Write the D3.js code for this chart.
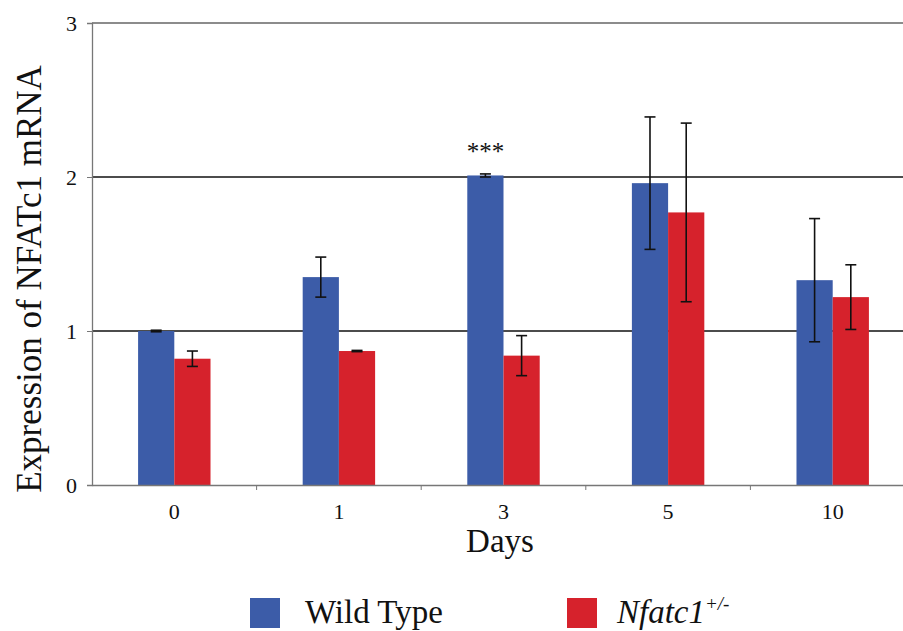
<!DOCTYPE html>
<html>
<head>
<meta charset="utf-8">
<script src="https://cdn.jsdelivr.net/npm/d3@7"></script>
<style>
  body { margin: 0; background: #fff; }
</style>
</head>
<body>
<svg id="figure"></svg>
<script>
var days = ["0", "1", "3", "5", "10"];
var series = ["Wild Type", "Nfatc1"];
var wtMean = [1.00, 1.35, 2.01, 1.96, 1.33];
var wtErr  = [0.005, 0.13, 0.01, 0.43, 0.40];
var hetMean = [0.82, 0.87, 0.84, 1.77, 1.22];
var hetErr  = [0.05, 0.004, 0.13, 0.58, 0.21];
var yTicks = [0, 1, 2, 3];
var colors = ["#3c5ca8", "#d6222c"];

var serif = "'Liberation Serif', 'Times New Roman', Times, serif";

var fullWidth = 903, fullHeight = 631;
var margin = {top: 23, left: 92, bottom: 146};
var plotHeight = fullHeight - margin.top - margin.bottom;
var plotWidth = 823;   // runs past the right edge, as in the picture

var svg = d3.select("#figure")
    .attr("width", fullWidth)
    .attr("height", fullHeight)
    .style("font-family", serif);

var g = svg.append("g")
    .attr("transform", "translate(" + margin.left + "," + margin.top + ")");

var x = d3.scaleBand().domain(days).range([0, plotWidth]);
var xInner = d3.scaleBand().domain(series).range([x.bandwidth() * 0.28, x.bandwidth() * 0.72]);
var y = d3.scaleLinear().domain([0, 3]).range([plotHeight, 0]);

// grid lines
g.selectAll(".grid").data(yTicks.filter(function(d) { return d > 0; }))
    .enter().append("line")
    .attr("x1", 0).attr("x2", fullWidth)
    .attr("y1", function(d) { return y(d); })
    .attr("y2", function(d) { return y(d); })
    .attr("stroke", function(d) { return d === 3 ? "#666" : "#111"; })
    .attr("stroke-width", 1.6);

// y axis
var yAxis = d3.axisLeft(y).tickValues(yTicks).tickFormat(d3.format("d")).tickSize(5).tickPadding(10);
var ya = g.append("g").call(yAxis).attr("font-family", null);
ya.select(".domain").attr("stroke", "#777").attr("stroke-width", 1.3);
ya.selectAll(".tick line").attr("stroke", "#777");
ya.selectAll(".tick text").style("font-size", "22px").style("font-family", serif).attr("fill", "#111");

var rows = days.map(function(d, i) {
    return [
        {day: d, s: series[0], v: wtMean[i], e: wtErr[i], c: colors[0]},
        {day: d, s: series[1], v: hetMean[i], e: hetErr[i], c: colors[1]}
    ];
});
var flat = [].concat.apply([], rows);

g.selectAll(".bar").data(flat).enter().append("rect")
    .attr("x", function(d) { return x(d.day) + xInner(d.s); })
    .attr("width", xInner.bandwidth())
    .attr("y", function(d) { return y(d.v); })
    .attr("height", function(d) { return plotHeight - y(d.v); })
    .attr("fill", function(d) { return d.c; });

// x axis
var xAxis = d3.axisBottom(x).tickSize(0).tickPadding(18);
var xa = g.append("g").attr("transform", "translate(0," + plotHeight + ")").call(xAxis).attr("font-family", null);
xa.select(".domain").attr("stroke", "#777").attr("stroke-width", 1.3);
xa.selectAll(".tick text").style("font-size", "22px").style("font-family", serif).attr("fill", "#111");
xa.selectAll(".sep").data(days.slice(1)).enter().append("line")
    .attr("x1", function(d) { return x(d); }).attr("x2", function(d) { return x(d); })
    .attr("y1", 0).attr("y2", 5).attr("stroke", "#777");

// error bars
var cap = 5.5;
var eb = g.selectAll(".err").data(flat).enter().append("g")
    .attr("stroke", "#111").attr("stroke-width", 1.6);
eb.append("line")
    .attr("x1", function(d) { return x(d.day) + xInner(d.s) + xInner.bandwidth() / 2; })
    .attr("x2", function(d) { return x(d.day) + xInner(d.s) + xInner.bandwidth() / 2; })
    .attr("y1", function(d) { return y(d.v + d.e); })
    .attr("y2", function(d) { return y(d.v - d.e); });
[1, -1].forEach(function(sgn) {
    eb.append("line")
        .attr("x1", function(d) { return x(d.day) + xInner(d.s) + xInner.bandwidth() / 2 - cap; })
        .attr("x2", function(d) { return x(d.day) + xInner(d.s) + xInner.bandwidth() / 2 + cap; })
        .attr("y1", function(d) { return y(d.v + sgn * d.e); })
        .attr("y2", function(d) { return y(d.v + sgn * d.e); });
});

// significance mark on day 3 wild type
g.append("text")
    .attr("x", x("3") + xInner(series[0]) + xInner.bandwidth() / 2)
    .attr("y", y(wtMean[2] + wtErr[2]) - 14)
    .attr("text-anchor", "middle")
    .attr("fill", "#111")
    .style("font-size", "25px")
    .text("***");

// axis titles
svg.append("text")
    .attr("transform", "translate(41,279) rotate(-90)")
    .attr("text-anchor", "middle")
    .attr("fill", "#111")
    .style("font-size", "35px")
    .text("Expression of NFATc1 mRNA");

svg.append("text")
    .attr("x", 500).attr("y", 552)
    .attr("text-anchor", "middle")
    .attr("fill", "#111")
    .style("font-size", "33px")
    .text("Days");

// legend
var legendX = [250, 567];
var leg = svg.selectAll(".leg").data(series).enter().append("g")
    .attr("transform", function(d, i) { return "translate(" + legendX[i] + ",598)"; });
leg.append("rect").attr("width", 30).attr("height", 30)
    .attr("fill", function(d, i) { return colors[i]; });
var lt = leg.append("text").attr("x", function(d, i) { return i === 0 ? 55 : 50; })
    .attr("y", 25).attr("fill", "#111").style("font-size", "33px");
lt.filter(function(d, i) { return i === 0; }).text(function(d) { return d; });
var het = lt.filter(function(d, i) { return i === 1; });
het.append("tspan").style("font-style", "italic").text("Nfatc1");
het.append("tspan").attr("dy", -13).style("font-size", "19px").style("font-style", "italic").text("+/-");
</script>
</body>
</html>
